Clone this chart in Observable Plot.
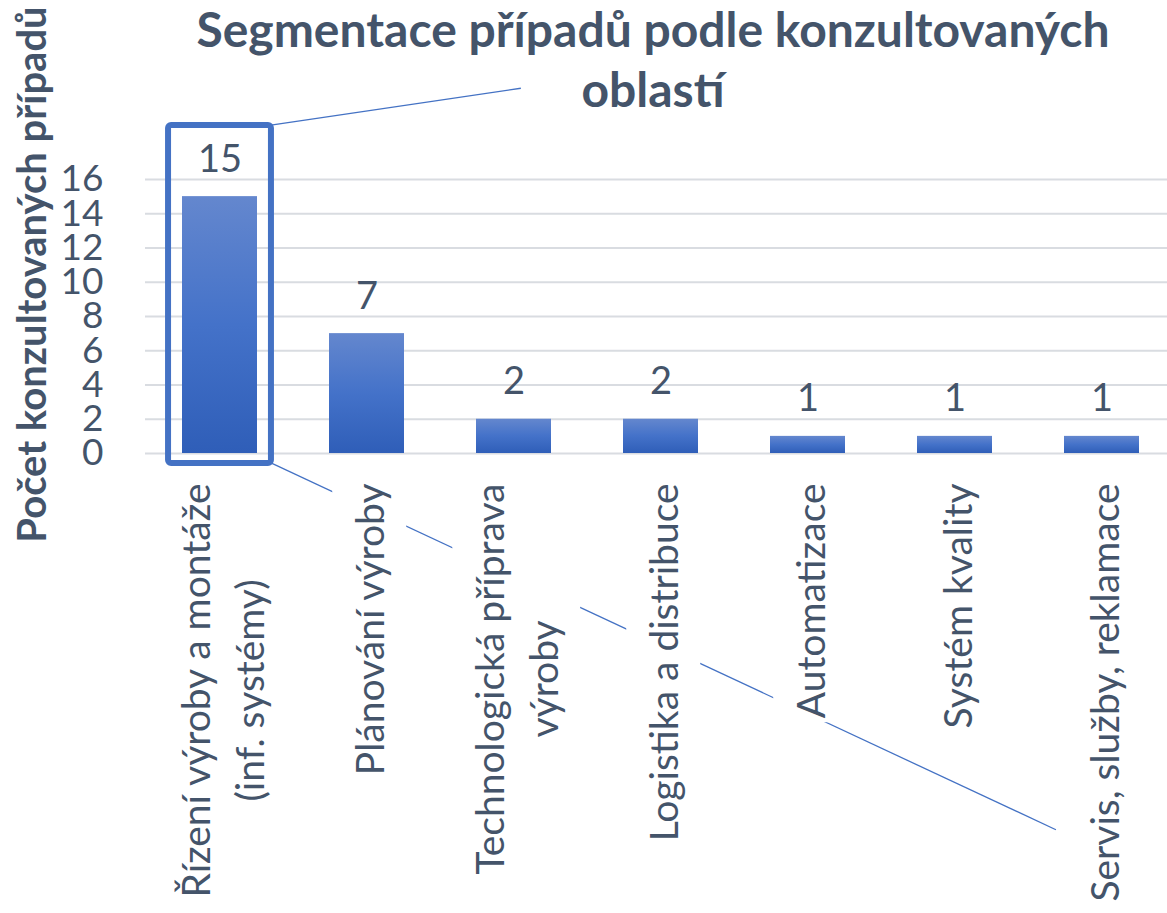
<!DOCTYPE html>
<html>
<head>
<meta charset="utf-8">
<script src="https://cdn.jsdelivr.net/npm/d3@7"></script>
<script src="https://cdn.jsdelivr.net/npm/@observablehq/plot@0.6"></script>
<style>
  html, body { margin: 0; padding: 0; background: #ffffff; }
  #chart svg { display: block; }
</style>
</head>
<body>
<div id="chart"></div>
<script>
// ---- data ----
const title = "Segmentace případů podle konzultovaných\noblastí";
const yTitle = "Počet konzultovaných případů";
const categories = [
  "Řízení výroby a montáže (inf. systémy)",
  "Plánování výroby",
  "Technologická příprava výroby",
  "Logistika a distribuce",
  "Automatizace",
  "Systém kvality",
  "Servis, služby, reklamace"
];
const tickLabels = [
  "Řízení výroby a montáže\n(inf. systémy)",
  "Plánování výroby",
  "Technologická příprava\nvýroby",
  "Logistika a distribuce",
  "Automatizace",
  "Systém kvality",
  "Servis, služby, reklamace"
];
const counts = [15, 7, 2, 2, 1, 1, 1];
const yTicks = [0, 2, 4, 6, 8, 10, 12, 14, 16];

// callout annotation (highlight box around first bar, two leader lines)
const highlightTop = 19.15, highlightBottom = -0.58;      // in y units
const leaderTargets = [                                       // band index, y value
  {band: 2.05, value: 21.3, from: "top"},
  {band: 5.69, value: -22.0, from: "bottom"}
];

const rows = categories.map((c, i) => ({category: c, count: counts[i], label: tickLabels[i]}));

const textColor = "#44546A";
const accent = "#4472C4";
const font = "Lato";

function gradientDefs() {
  const defs = d3.create("svg:defs");
  const g = defs.append("linearGradient").attr("id", "barGrad")
    .attr("x1", 0).attr("y1", 0).attr("x2", 0).attr("y2", 1);
  g.append("stop").attr("offset", "0%").attr("stop-color", "#6487CE");
  g.append("stop").attr("offset", "50%").attr("stop-color", "#4472C9");
  g.append("stop").attr("offset", "100%").attr("stop-color", "#2F5EB8");
  return defs.node();
}

function callout(index, scales) {
  const x = scales.x, y = scales.y;
  const step = x(categories[1]) - x(categories[0]);
  const bw = typeof x.bandwidth === "function" ? x.bandwidth() : step * 0.51;
  const pos = i => x(categories[0]) + bw / 2 + i * step;
  const half = 0.35 * step;
  const left = pos(0) - half, right = pos(0) + half;
  const top = y(highlightTop), bottom = y(highlightBottom);
  const g = d3.create("svg:g").attr("class", "callout");
  for (const t of leaderTargets) {
    g.append("line")
      .attr("x1", right).attr("y1", t.from === "top" ? top : bottom)
      .attr("x2", pos(t.band)).attr("y2", y(t.value))
      .attr("stroke", accent).attr("stroke-width", 1.3);
  }
  g.append("rect")
    .attr("x", left).attr("y", top)
    .attr("width", right - left).attr("height", bottom - top)
    .attr("rx", 3)
    .attr("fill", "none").attr("stroke", accent).attr("stroke-width", 6);
  return g.node();
}

const chart = Plot.plot({
  width: 1167,
  height: 913,
  marginLeft: 145,
  marginRight: -9,
  marginTop: 179,
  marginBottom: 460,
  style: {fontFamily: font, background: "#ffffff", overflow: "visible"},
  x: {domain: categories, paddingInner: 0.49, paddingOuter: 0.245, axis: null},
  y: {domain: [0, 16], axis: null},
  marks: [
    gradientDefs,
    Plot.gridY(yTicks, {stroke: "#D9DCE1", strokeOpacity: 1, strokeWidth: 2}),
    Plot.barY(rows, {x: "category", y: "count", fill: "url(#barGrad)"}),
    callout,
    Plot.text(rows, {
      x: "category", y: "count", text: d => String(d.count),
      dy: -25, lineAnchor: "bottom", fontSize: 38, fill: textColor
    }),
    Plot.text(rows, {
      x: "category", frameAnchor: "bottom", text: "label",
      rotate: -90, textAnchor: "end", lineAnchor: "middle", lineHeight: 1.38,
      dy: 30, fontSize: 39, fill: textColor
    }),
    Plot.axisY(yTicks, {
      tickSize: 0, tickPadding: 42, fontSize: 37, color: textColor, label: null
    }),
    Plot.text([yTitle], {
      frameAnchor: "top-left", text: d => d, rotate: -90,
      textAnchor: "middle", lineAnchor: "middle",
      dx: -112, dy: 95, fontSize: 40, fontWeight: "bold", fill: textColor
    }),
    Plot.text([title], {
      frameAnchor: "top", text: d => d, textAnchor: "middle", lineAnchor: "top",
      lineHeight: 1.25, dx: -8, dy: -175, fontSize: 48, fontWeight: "bold", fill: textColor
    })
  ]
});

document.getElementById("chart").appendChild(chart);

// category labels: multi-line blocks centered line-on-line, and an opaque white
// text box behind each label (hides the leader line like the original's label boxes)
const labelSet = new Set(tickLabels.map(s => s.replace(/\n/g, "")));
d3.select(chart).selectAll("text")
  .filter(function () { return labelSet.has(this.textContent); })
  .each(function () {
    const t = d3.select(this);
    const tspans = t.selectAll("tspan");
    if (tspans.size() > 1) {
      let max = 0;
      tspans.each(function () { max = Math.max(max, this.getComputedTextLength()); });
      t.attr("text-anchor", "middle").style("text-anchor", "middle");
      tspans.attr("x", -max / 2);
    }
    const b = this.getBBox();
    const padAlong = 4, padAcross = 14;
    const rect = document.createElementNS("http://www.w3.org/2000/svg", "rect");
    rect.setAttribute("x", b.x - padAlong);
    rect.setAttribute("y", b.y - padAcross);
    rect.setAttribute("width", b.width + 2 * padAlong);
    rect.setAttribute("height", b.height + 2 * padAcross);
    rect.setAttribute("fill", "#ffffff");
    const tr = this.getAttribute("transform");
    if (tr) rect.setAttribute("transform", tr);
    this.parentNode.insertBefore(rect, this);
  });
</script>
</body>
</html>
